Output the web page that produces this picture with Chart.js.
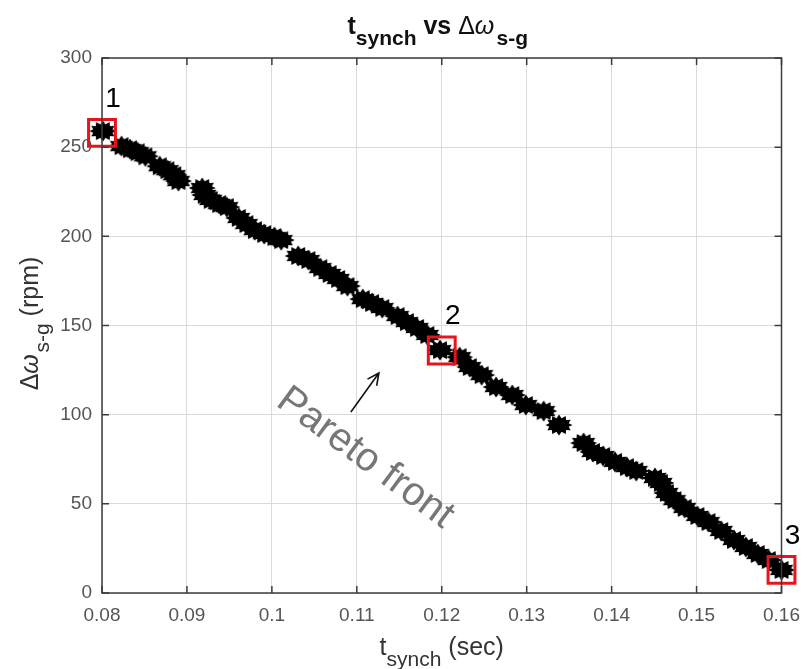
<!DOCTYPE html>
<html>
<head>
<meta charset="utf-8">
<script src="https://cdn.jsdelivr.net/npm/chart.js@4/dist/chart.umd.min.js"></script>
<style>
  body { margin: 0; background: #fff; }
  #wrap { width: 811px; height: 669px; }
</style>
</head>
<body>
<div id="wrap"><canvas id="c" width="811" height="669"></canvas></div>
<script>
// パレート解 (t_synch [sec], Δω_s-g [rpm])
const tSynch = [0.0801,0.0823,0.0833,0.0842,0.0851,0.0868,0.0877,0.0885,0.0890,0.0918,0.0921,0.0928,0.0938,0.0947,0.0961,0.0970,0.0980,0.0991,0.1003,0.1011,0.1031,0.1043,0.1057,0.1068,0.1078,0.1089,0.1107,0.1118,0.1130,0.1148,0.1159,0.1171,0.1183,0.1198,0.1221,0.1233,0.1247,0.1264,0.1283,0.1299,0.1320,0.1338,0.1367,0.1378,0.1390,0.1404,0.1418,0.1429,0.1451,0.1458,0.1465,0.1474,0.1486,0.1501,0.1514,0.1529,0.1544,0.1558,0.1572,0.1585,0.1600];
const dOmega = [259.0,250.6,248.9,247.2,244.9,239.3,237.1,234.3,231.0,227.1,223.2,220.4,218.1,216.4,210.3,206.9,203.5,201.3,199.6,197.9,189.0,186.7,182.2,178.9,176.1,172.1,164.8,162.6,159.8,155.3,151.9,148.6,144.7,136.2,132.3,126.7,122.2,115.5,111.0,105.4,102.0,94.2,84.1,79.1,76.8,73.5,70.6,68.4,64.5,61.7,56.1,52.1,47.7,43.2,39.8,34.8,29.7,25.8,21.9,18.5,12.9];

// 選択した3点
const selT = [0.08, 0.12, 0.16];
const selW = [258, 136, 13];
const selLabels = ['1', '2', '3'];

// 目盛り
const xTicks = [0.08, 0.09, 0.1, 0.11, 0.12, 0.13, 0.14, 0.15, 0.16];
const yTicks = [0, 50, 100, 150, 200, 250, 300];

// 注記 (データ座標)
const arrowFrom = [0.1093, 101.5];
const arrowTo = [0.1126, 123.4];
const paretoPos = [0.1110, 75.7];
const paretoText = 'Pareto front';

const FONT = '"Liberation Sans", Arial, sans-serif';

// 星形マーカーを作る
function makeMarker() {
    const cv = document.createElement('canvas');
    cv.width = 28; cv.height = 22;
    const g = cv.getContext('2d');
    g.fillStyle = '#000';
    g.beginPath();
    const n = 12;
    for (let i = 0; i < n * 2; i++) {
        const a = Math.PI * i / n;
        const outer = i % 2 === 0;
        const rx = outer ? 13.5 : 10;
        const ry = outer ? 10.5 : 7;
        const px = 14 + rx * Math.cos(a);
        const py = 11 + ry * Math.sin(a);
        if (i === 0) g.moveTo(px, py); else g.lineTo(px, py);
    }
    g.closePath();
    g.fill();
    return cv;
}

// 下付き文字つきの文字列を描く  parts: [文字, 下付き?, フォント指定]
function drawRich(ctx, parts, x, y, subDy, color) {
    let total = 0;
    const widths = parts.map(p => {
        ctx.font = p[2];
        const w = ctx.measureText(p[0]).width;
        total += w;
        return w;
    });
    let cx = x - total / 2;
    ctx.fillStyle = color;
    ctx.textAlign = 'left';
    ctx.textBaseline = 'alphabetic';
    parts.forEach((p, i) => {
        ctx.font = p[2];
        ctx.fillText(p[0], cx, p[1] ? y + subDy : y);
        cx += widths[i];
    });
}

const annotations = {
    id: 'annotations',
    afterDatasetsDraw(chart) {
        const ctx = chart.ctx;
        const xs = chart.scales.x, ys = chart.scales.y;
        const a = chart.chartArea;
        ctx.save();

        // 枠と内向きの目盛り
        ctx.strokeStyle = '#3c3c3c';
        ctx.lineWidth = 1.5;
        ctx.strokeRect(a.left, a.top, a.right - a.left, a.bottom - a.top);
        ctx.beginPath();
        xTicks.forEach(v => {
            const px = xs.getPixelForValue(v);
            ctx.moveTo(px, a.bottom); ctx.lineTo(px, a.bottom - 7);
            ctx.moveTo(px, a.top); ctx.lineTo(px, a.top + 7);
        });
        yTicks.forEach(v => {
            const py = ys.getPixelForValue(v);
            ctx.moveTo(a.left, py); ctx.lineTo(a.left + 7, py);
            ctx.moveTo(a.right, py); ctx.lineTo(a.right - 7, py);
        });
        ctx.stroke();

        // 番号
        ctx.fillStyle = '#000';
        ctx.font = `28px ${FONT}`;
        ctx.textAlign = 'center';
        ctx.textBaseline = 'middle';
        selLabels.forEach((s, i) => {
            const px = xs.getPixelForValue(selT[i]);
            const py = ys.getPixelForValue(selW[i]);
            ctx.fillText(s, px + 11, py - 34);
        });

        // 矢印
        const x1 = xs.getPixelForValue(arrowFrom[0]), y1 = ys.getPixelForValue(arrowFrom[1]);
        const x2 = xs.getPixelForValue(arrowTo[0]), y2 = ys.getPixelForValue(arrowTo[1]);
        const ang = Math.atan2(y2 - y1, x2 - x1);
        ctx.strokeStyle = '#111';
        ctx.lineWidth = 1.6;
        ctx.beginPath();
        ctx.moveTo(x1, y1); ctx.lineTo(x2, y2);
        ctx.moveTo(x2 - 13 * Math.cos(ang - 0.45), y2 - 13 * Math.sin(ang - 0.45));
        ctx.lineTo(x2, y2);
        ctx.lineTo(x2 - 13 * Math.cos(ang + 0.45), y2 - 13 * Math.sin(ang + 0.45));
        ctx.stroke();

        // Pareto front
        ctx.translate(xs.getPixelForValue(paretoPos[0]), ys.getPixelForValue(paretoPos[1]));
        ctx.rotate(36.5 * Math.PI / 180);
        ctx.fillStyle = '#777';
        ctx.font = `40px ${FONT}`;
        ctx.textAlign = 'center';
        ctx.textBaseline = 'middle';
        ctx.fillText(paretoText, 0, 0);
        ctx.restore();

        // タイトルと軸ラベル
        ctx.save();
        const cx = (a.left + a.right) / 2;
        const tb = `bold 25px ${FONT}`, ts = `bold 21px ${FONT}`;
        drawRich(ctx, [['t', 0, tb], ['synch', 1, ts], [' vs ', 0, tb], ['\u0394', 0, `25px ${FONT}`], ['\u03C9', 0, `italic 25px ${FONT}`], [' ', 0, `8px ${FONT}`], ['s-g', 1, ts]], cx - 4, 34, 11, '#111');
        const ln = `25px ${FONT}`, ls = `21px ${FONT}`;
        drawRich(ctx, [['t', 0, ln], ['synch', 1, ls], [' (sec)', 0, ln]], cx, 655, 11, '#333');
        ctx.translate(38, (a.top + a.bottom) / 2 - 2);
        ctx.rotate(-Math.PI / 2);
        drawRich(ctx, [['\u0394', 0, ln], ['\u03C9', 0, `italic 25px ${FONT}`], [' ', 0, `6px ${FONT}`], ['s-g', 1, ls], [' (rpm)', 0, ln]], 0, 0, 11, '#333');
        ctx.restore();
    }
};

new Chart(document.getElementById('c'), {
    type: 'scatter',
    data: {
        datasets: [
            {
                label: 'selected',
                data: selT.map((t, i) => ({ x: t, y: selW[i] })),
                pointStyle: 'rect',
                pointRadius: 19,
                borderColor: '#e8141c',
                borderWidth: 3,
                backgroundColor: 'rgba(0,0,0,0)',
                clip: false
            },
            {
                label: 'pareto',
                data: tSynch.map((t, i) => ({ x: t, y: dOmega[i] })),
                pointStyle: makeMarker(),
                pointRadius: 10,
                clip: false
            }
        ]
    },
    options: {
        responsive: false,
        animation: false,
        events: [],
        layout: { padding: { top: 58, right: 23, left: 0, bottom: 0 } },
        plugins: { legend: { display: false }, tooltip: { enabled: false } },
        scales: {
            x: {
                type: 'linear',
                min: 0.08,
                max: 0.16,
                afterFit(scale) { scale.height = 76; },
                afterBuildTicks(scale) { scale.ticks = xTicks.map(v => ({ value: v })); },
                ticks: {
                    color: '#555',
                    font: { family: FONT, size: 19 },
                    padding: 11,
                    maxRotation: 0,
                    callback: v => String(+v.toFixed(2))
                },
                grid: { color: '#dadada', lineWidth: 1, drawTicks: false },
                border: { display: false }
            },
            y: {
                type: 'linear',
                min: 0,
                max: 300,
                afterFit(scale) { scale.width = 102; },
                afterBuildTicks(scale) { scale.ticks = yTicks.map(v => ({ value: v })); },
                ticks: {
                    color: '#555',
                    font: { family: FONT, size: 19 },
                    padding: 10
                },
                grid: { color: '#dadada', lineWidth: 1, drawTicks: false },
                border: { display: false }
            }
        }
    },
    plugins: [annotations]
});
</script>
</body>
</html>
